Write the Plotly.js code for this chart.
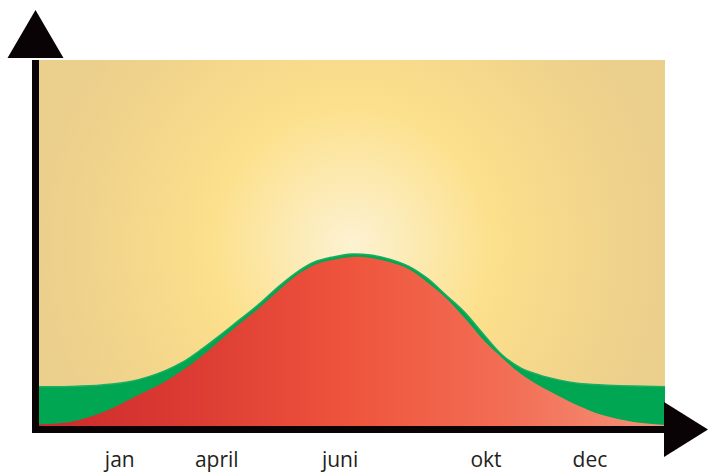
<!DOCTYPE html>
<html>
<head>
<meta charset="utf-8">
<script src="https://cdn.plot.ly/plotly-3.0.1.min.js"></script>
<style>html,body{margin:0;padding:0;background:#fff;}#chart{width:708px;height:472px;}</style>
</head>
<body>
<div id="chart"></div>
<script>
// Position along the year (0 = left edge of chart, 100 = right edge)
var xPos = [0, 5, 10, 15, 20, 23, 26, 29, 32, 35, 38, 41, 44, 47, 50, 53, 56, 59, 62, 65, 68, 71, 74, 77, 80, 83, 86, 90, 95, 100];
// Upper (green) curve
var greenVals = [10.7, 10.8, 11.2, 12.3, 15.0, 17.5, 21.0, 24.9, 29.0, 33.1, 37.7, 41.8, 44.8, 46.2, 47.0, 46.7, 45.6, 43.7, 40.4, 35.8, 31.1, 25.1, 19.4, 15.8, 13.9, 12.6, 11.7, 11.2, 10.9, 10.7];
// Lower (red) curve
var redVals = [0.5, 1.1, 3.6, 7.7, 12.0, 15.3, 19.1, 23.5, 27.9, 32.0, 36.6, 41.0, 44.0, 45.4, 46.2, 45.9, 44.8, 42.9, 39.3, 35.0, 29.5, 23.5, 18.6, 14.2, 10.9, 8.2, 5.7, 3.0, 1.1, 0.3];
// Tick labels
var tickLabels = ["jan", "april", "juni", "okt", "dec"];
var tickPos = [12.9, 28.4, 48.1, 71.4, 88.0];

var X_RANGE = [0, 100], Y_RANGE = [0, 100];
var W = 708, H = 472, ML = 39, MR = 43, MT = 60, MB = 46;
var plotW = W - ML - MR, plotH = H - MT - MB;
function fx(px) { return (px - ML) / plotW; }
function fy(py) { return (H - MB - py) / plotH; }

// background panel: taller than plot (clipped) so the radial glow is circular
var unitsPerPx = (Y_RANGE[1] - Y_RANGE[0]) / plotH;
var bgCenter = Y_RANGE[0] + (H - MB - 245) * unitsPerPx;
var bgHalf = (plotW / 2) * unitsPerPx;
var bgX = [X_RANGE[0], X_RANGE[1], X_RANGE[1], X_RANGE[0], X_RANGE[0]];
var bgY = [bgCenter - bgHalf, bgCenter - bgHalf, bgCenter + bgHalf, bgCenter + bgHalf, bgCenter - bgHalf];

var traces = [
  {
    x: bgX, y: bgY, type: 'scatter', mode: 'lines', fill: 'toself',
    line: {width: 0, color: 'rgba(0,0,0,0)'},
    fillcolor: '#EBCF8C',
    fillgradient: {type: 'radial', colorscale: [[0, '#FDF2D2'], [0.18, '#FCEBB6'], [0.45, '#FCE08C'], [0.72, '#F4D78B'], [1, '#EBCF8C']]},
    hoverinfo: 'skip', showlegend: false
  },
  {
    x: xPos, y: greenVals, type: 'scatter', mode: 'lines', fill: 'tozeroy',
    line: {width: 1.5, color: '#1AAE62', shape: 'spline', smoothing: 1},
    fillcolor: '#00A651', hoverinfo: 'skip', showlegend: false
  },
  {
    x: xPos, y: redVals, type: 'scatter', mode: 'lines', fill: 'tozeroy',
    line: {width: 0, color: 'rgba(0,0,0,0)', shape: 'spline', smoothing: 1},
    fillcolor: '#E8503A',
    fillgradient: {type: 'horizontal', colorscale: [[0, '#CC2A2C'], [0.25, '#DC3C33'], [0.5, '#EF553D'], [0.75, '#F26E55'], [1, '#F5937A']]},
    hoverinfo: 'skip', showlegend: false
  }
];

var axisColor = '#0A0306';
var layout = {
  width: W, height: H,
  margin: {l: ML, r: MR, t: MT, b: MB, pad: 0},
  paper_bgcolor: '#ffffff', plot_bgcolor: '#ffffff',
  showlegend: false,
  xaxis: {
    range: X_RANGE, showgrid: false, zeroline: false, showline: true,
    linewidth: 7, linecolor: axisColor, ticks: '',
    tickvals: tickPos, ticktext: tickLabels,
    tickfont: {family: 'Open Sans, sans-serif', size: 21, color: '#231F20'},
    ticklabelstandoff: 9, fixedrange: true
  },
  yaxis: {
    range: Y_RANGE, showgrid: false, zeroline: false, showline: true,
    linewidth: 7, linecolor: axisColor, ticks: '', showticklabels: false, fixedrange: true
  },
  shapes: [
    {type: 'path', xref: 'paper', yref: 'paper', layer: 'above',
     path: 'M' + fx(35.5) + ',' + fy(10) + ' L' + fx(7.5) + ',' + fy(58) + ' L' + fx(63.5) + ',' + fy(58) + ' Z',
     fillcolor: axisColor, line: {width: 0}},
    {type: 'path', xref: 'paper', yref: 'paper', layer: 'above',
     path: 'M' + fx(708) + ',' + fy(429.5) + ' L' + fx(664) + ',' + fy(402) + ' L' + fx(664) + ',' + fy(457) + ' Z',
     fillcolor: axisColor, line: {width: 0}}
  ]
};

Plotly.newPlot('chart', traces, layout, {staticPlot: true, displayModeBar: false});
</script>
</body>
</html>
